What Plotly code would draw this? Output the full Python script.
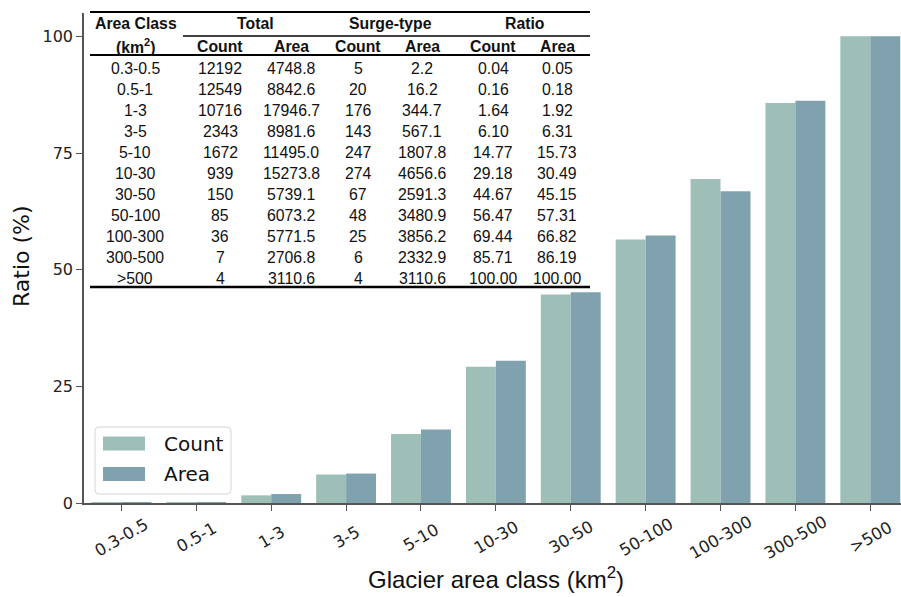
import plotly.graph_objects as go

# ---------------- data ----------------
categories = ["0.3-0.5", "0.5-1", "1-3", "3-5", "5-10", "10-30", "30-50",
              "50-100", "100-300", "300-500", ">500"]
total_count = [12192, 12549, 10716, 2343, 1672, 939, 150, 85, 36, 7, 4]
total_area = [4748.8, 8842.6, 17946.7, 8981.6, 11495.0, 15273.8, 5739.1,
              6073.2, 5771.5, 2706.8, 3110.6]
surge_count = [5, 20, 176, 143, 247, 274, 67, 48, 25, 6, 4]
surge_area = [2.2, 16.2, 344.7, 567.1, 1807.8, 4656.6, 2591.3, 3480.9,
              3856.2, 2332.9, 3110.6]
ratio_count = [0.04, 0.16, 1.64, 6.10, 14.77, 29.18, 44.67, 56.47, 69.44,
               85.71, 100.00]
ratio_area = [0.05, 0.18, 1.92, 6.31, 15.73, 30.49, 45.15, 57.31, 66.82,
              86.19, 100.00]
series_names = ["Count", "Area"]
y_ticks = [0, 25, 50, 75, 100]

# ---------------- layout helpers ----------------
W, H = 901, 597
L, R, T, B = 84, 901, 13, 503


def px(x):
    return (x - L) / (R - L)


def py(y):
    return (B - y) / (B - T)


COLORS = ["#9ebfb7", "#80a2af"]
TXT = "Liberation Sans, Arial, sans-serif"
DJV = "DejaVu Sans, sans-serif"

fig = go.Figure()
for name, vals, col in zip(series_names, [ratio_count, ratio_area], COLORS):
    fig.add_trace(go.Bar(x=categories, y=vals, name=name,
                         marker=dict(color=col, line=dict(width=0))))

ann = []
shapes = []

# rotated x tick labels centred on the ticks (matplotlib style)
for c in categories:
    ann.append(dict(x=c, y=py(537), xref="x", yref="paper", text=c,
                    showarrow=False, textangle=-30, xanchor="center",
                    yanchor="middle",
                    font=dict(family=DJV, size=16.5, color="#222")))

# axis titles
ann.append(dict(x=px(496), y=py(578), xref="paper", yref="paper",
                text="Glacier area class (km<sup>2</sup>)", showarrow=False,
                xanchor="center", yanchor="middle",
                font=dict(family=TXT, size=24, color="#111")))
ann.append(dict(x=px(22), y=py(256), xref="paper", yref="paper",
                text="Ratio (%)", showarrow=False, textangle=-90,
                xanchor="center", yanchor="middle",
                font=dict(family=DJV, size=22, color="#111")))

# ---------------- legend (matplotlib style) ----------------
bx0, bx1, by0, by1, rr = 95, 231, 427, 494, 4
shapes.append(dict(
    type="path", xref="paper", yref="paper", layer="above",
    path=(f"M{px(bx0 + rr)},{py(by0)} L{px(bx1 - rr)},{py(by0)} "
          f"Q{px(bx1)},{py(by0)} {px(bx1)},{py(by0 + rr)} "
          f"L{px(bx1)},{py(by1 - rr)} Q{px(bx1)},{py(by1)} {px(bx1 - rr)},{py(by1)} "
          f"L{px(bx0 + rr)},{py(by1)} Q{px(bx0)},{py(by1)} {px(bx0)},{py(by1 - rr)} "
          f"L{px(bx0)},{py(by0 + rr)} Q{px(bx0)},{py(by0)} {px(bx0 + rr)},{py(by0)} Z"),
    fillcolor="rgba(255,255,255,0.85)", line=dict(color="#d6d6d6", width=1)))
for k, (name, col) in enumerate(zip(series_names, COLORS)):
    yc = 443.5 + 30.5 * k
    shapes.append(dict(type="rect", xref="paper", yref="paper", layer="above",
                       x0=px(103), x1=px(145), y0=py(yc - 7), y1=py(yc + 7),
                       fillcolor=col, line=dict(width=0)))
    ann.append(dict(x=px(162), y=py(yc), xref="paper", yref="paper", text=name,
                    showarrow=False, xanchor="left", yanchor="middle",
                    font=dict(family=DJV, size=20, color="#111")))

# ---------------- table ----------------
col_x = [135, 220, 291, 358, 422, 493, 557]
row_y0, row_dy = 68.3, 20.97


def add_text(x, y, s, bold=False, size=15.8):
    ann.append(dict(x=px(x), y=py(y), xref="paper", yref="paper",
                    text=f"<b>{s}</b>" if bold else s, showarrow=False,
                    xanchor="center", yanchor="middle",
                    font=dict(family=TXT, size=size, color="#111")))


add_text(136, 23, "Area Class", bold=True)
add_text(136, 46, "(km<sup>2</sup>)", bold=True)
add_text(255, 23, "Total", bold=True)
add_text(390, 23, "Surge-type", bold=True)
add_text(525, 23, "Ratio", bold=True)
for i, h in enumerate(["Count", "Area", "Count", "Area", "Count", "Area"]):
    add_text(col_x[i + 1], 46, h, bold=True)

for i, c in enumerate(categories):
    y = row_y0 + row_dy * i
    vals = [c, str(total_count[i]), f"{total_area[i]:.1f}", str(surge_count[i]),
            f"{surge_area[i]:.1f}", f"{ratio_count[i]:.2f}", f"{ratio_area[i]:.2f}"]
    for j, v in enumerate(vals):
        add_text(col_x[j], y, v)


def hline(x0, x1, y, w):
    shapes.append(dict(type="line", xref="paper", yref="paper",
                       x0=px(x0), x1=px(x1), y0=py(y), y1=py(y),
                       line=dict(color="black", width=w), layer="above"))


hline(90, 590, 12, 2.2)
hline(183, 590, 36, 1.6)
hline(90, 590, 55, 2.2)
hline(90, 590, 287, 2.5)

fig.update_layout(
    width=W, height=H,
    margin=dict(l=L, r=W - R, t=T, b=H - B, pad=0),
    paper_bgcolor="white", plot_bgcolor="white",
    barmode="group", bargap=0.2, bargroupgap=0,
    annotations=ann, shapes=shapes,
    showlegend=False,
    xaxis=dict(range=[-0.5, 10.41], showline=True, linecolor="#555", linewidth=1.5,
               ticks="outside", ticklen=6, tickcolor="#555", tickwidth=1.2,
               showticklabels=False, automargin=False,
               showgrid=False, zeroline=False),
    yaxis=dict(range=[0, 105], tickvals=y_ticks, showline=True, linecolor="#555",
               linewidth=1.5, ticks="outside", ticklen=6, tickcolor="#555",
               tickwidth=1.2, tickfont=dict(family=DJV, size=16, color="#222"),
               showgrid=False, zeroline=False, automargin=False),
)

fig.write_html("out.html", config={"displayModeBar": False},
               post_script="document.body.style.margin='0';"
                           "document.body.style.overflow='hidden';")
